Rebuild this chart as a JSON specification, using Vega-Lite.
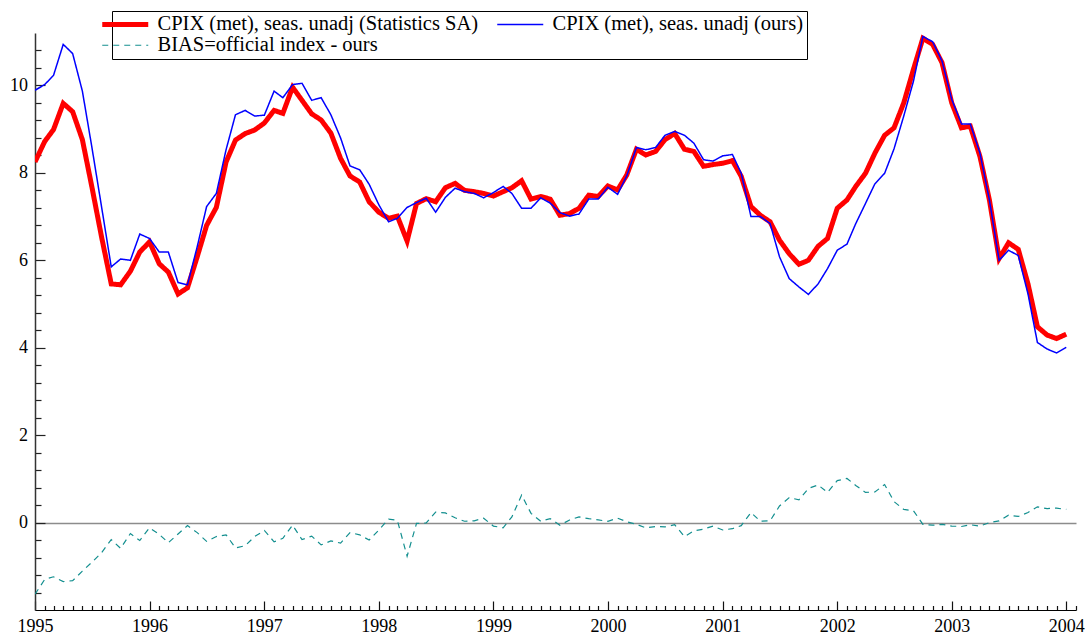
{
  "$schema": "https://vega.github.io/schema/vega-lite/v6.json",
  "width": 1041,
  "height": 577,
  "autosize": {"type": "none"},
  "padding": {"left": 35, "top": 33, "right": 14, "bottom": 27},
  "background": "white",
  "config": {"view": {"stroke": null}, "font": "Liberation Serif"},
  "data": {"values": [
    {"d": "1995-01-01", "official": 8.25, "ours": 9.89, "bias": -1.64},
    {"d": "1995-02-01", "official": 8.72, "ours": 10.02, "bias": -1.30},
    {"d": "1995-03-01", "official": 8.99, "ours": 10.23, "bias": -1.24},
    {"d": "1995-04-01", "official": 9.59, "ours": 10.94, "bias": -1.35},
    {"d": "1995-05-01", "official": 9.40, "ours": 10.73, "bias": -1.33},
    {"d": "1995-06-01", "official": 8.76, "ours": 9.87, "bias": -1.11},
    {"d": "1995-07-01", "official": 7.69, "ours": 8.60, "bias": -0.91},
    {"d": "1995-08-01", "official": 6.54, "ours": 7.23, "bias": -0.69},
    {"d": "1995-09-01", "official": 5.46, "ours": 5.85, "bias": -0.39},
    {"d": "1995-10-01", "official": 5.44, "ours": 6.03, "bias": -0.59},
    {"d": "1995-11-01", "official": 5.75, "ours": 6.00, "bias": -0.25},
    {"d": "1995-12-01", "official": 6.19, "ours": 6.60, "bias": -0.41},
    {"d": "1996-01-01", "official": 6.42, "ours": 6.50, "bias": -0.12},
    {"d": "1996-02-01", "official": 5.92, "ours": 6.19, "bias": -0.27},
    {"d": "1996-03-01", "official": 5.73, "ours": 6.19, "bias": -0.46},
    {"d": "1996-04-01", "official": 5.23, "ours": 5.49, "bias": -0.26},
    {"d": "1996-05-01", "official": 5.37, "ours": 5.44, "bias": -0.07},
    {"d": "1996-06-01", "official": 6.08, "ours": 6.31, "bias": -0.23},
    {"d": "1996-07-01", "official": 6.80, "ours": 7.23, "bias": -0.43},
    {"d": "1996-08-01", "official": 7.21, "ours": 7.53, "bias": -0.32},
    {"d": "1996-09-01", "official": 8.25, "ours": 8.53, "bias": -0.28},
    {"d": "1996-10-01", "official": 8.75, "ours": 9.33, "bias": -0.58},
    {"d": "1996-11-01", "official": 8.90, "ours": 9.43, "bias": -0.53},
    {"d": "1996-12-01", "official": 8.98, "ours": 9.30, "bias": -0.32},
    {"d": "1997-01-01", "official": 9.14, "ours": 9.32, "bias": -0.18},
    {"d": "1997-02-01", "official": 9.43, "ours": 9.87, "bias": -0.44},
    {"d": "1997-03-01", "official": 9.36, "ours": 9.72, "bias": -0.36},
    {"d": "1997-04-01", "official": 9.96, "ours": 10.02, "bias": -0.06},
    {"d": "1997-05-01", "official": 9.66, "ours": 10.05, "bias": -0.39},
    {"d": "1997-06-01", "official": 9.35, "ours": 9.66, "bias": -0.31},
    {"d": "1997-07-01", "official": 9.21, "ours": 9.72, "bias": -0.51},
    {"d": "1997-08-01", "official": 8.91, "ours": 9.33, "bias": -0.42},
    {"d": "1997-09-01", "official": 8.33, "ours": 8.80, "bias": -0.47},
    {"d": "1997-10-01", "official": 7.93, "ours": 8.16, "bias": -0.23},
    {"d": "1997-11-01", "official": 7.79, "ours": 8.07, "bias": -0.28},
    {"d": "1997-12-01", "official": 7.34, "ours": 7.74, "bias": -0.40},
    {"d": "1998-01-01", "official": 7.10, "ours": 7.27, "bias": -0.17},
    {"d": "1998-02-01", "official": 6.96, "ours": 6.88, "bias": 0.08},
    {"d": "1998-03-01", "official": 7.01, "ours": 6.96, "bias": 0.05},
    {"d": "1998-04-01", "official": 6.44, "ours": 7.21, "bias": -0.77},
    {"d": "1998-05-01", "official": 7.30, "ours": 7.32, "bias": -0.02},
    {"d": "1998-06-01", "official": 7.41, "ours": 7.42, "bias": -0.01},
    {"d": "1998-07-01", "official": 7.34, "ours": 7.10, "bias": 0.24},
    {"d": "1998-08-01", "official": 7.66, "ours": 7.44, "bias": 0.22},
    {"d": "1998-09-01", "official": 7.76, "ours": 7.65, "bias": 0.11},
    {"d": "1998-10-01", "official": 7.60, "ours": 7.57, "bias": 0.03},
    {"d": "1998-11-01", "official": 7.57, "ours": 7.53, "bias": 0.04},
    {"d": "1998-12-01", "official": 7.53, "ours": 7.43, "bias": 0.10},
    {"d": "1999-01-01", "official": 7.47, "ours": 7.55, "bias": -0.08},
    {"d": "1999-02-01", "official": 7.57, "ours": 7.69, "bias": -0.12},
    {"d": "1999-03-01", "official": 7.66, "ours": 7.53, "bias": 0.13},
    {"d": "1999-04-01", "official": 7.82, "ours": 7.19, "bias": 0.63},
    {"d": "1999-05-01", "official": 7.40, "ours": 7.19, "bias": 0.21},
    {"d": "1999-06-01", "official": 7.46, "ours": 7.43, "bias": 0.03},
    {"d": "1999-07-01", "official": 7.40, "ours": 7.31, "bias": 0.09},
    {"d": "1999-08-01", "official": 7.03, "ours": 7.09, "bias": -0.06},
    {"d": "1999-09-01", "official": 7.07, "ours": 7.01, "bias": 0.06},
    {"d": "1999-10-01", "official": 7.19, "ours": 7.06, "bias": 0.13},
    {"d": "1999-11-01", "official": 7.49, "ours": 7.40, "bias": 0.09},
    {"d": "1999-12-01", "official": 7.46, "ours": 7.40, "bias": 0.06},
    {"d": "2000-01-01", "official": 7.70, "ours": 7.67, "bias": 0.03},
    {"d": "2000-02-01", "official": 7.61, "ours": 7.51, "bias": 0.10},
    {"d": "2000-03-01", "official": 7.95, "ours": 7.93, "bias": 0.02},
    {"d": "2000-04-01", "official": 8.54, "ours": 8.58, "bias": -0.04},
    {"d": "2000-05-01", "official": 8.41, "ours": 8.53, "bias": -0.12},
    {"d": "2000-06-01", "official": 8.49, "ours": 8.58, "bias": -0.09},
    {"d": "2000-07-01", "official": 8.76, "ours": 8.86, "bias": -0.10},
    {"d": "2000-08-01", "official": 8.90, "ours": 8.95, "bias": -0.05},
    {"d": "2000-09-01", "official": 8.54, "ours": 8.86, "bias": -0.32},
    {"d": "2000-10-01", "official": 8.49, "ours": 8.68, "bias": -0.19},
    {"d": "2000-11-01", "official": 8.15, "ours": 8.30, "bias": -0.15},
    {"d": "2000-12-01", "official": 8.19, "ours": 8.27, "bias": -0.08},
    {"d": "2001-01-01", "official": 8.22, "ours": 8.39, "bias": -0.17},
    {"d": "2001-02-01", "official": 8.28, "ours": 8.42, "bias": -0.14},
    {"d": "2001-03-01", "official": 7.92, "ours": 7.99, "bias": -0.07},
    {"d": "2001-04-01", "official": 7.23, "ours": 7.00, "bias": 0.23},
    {"d": "2001-05-01", "official": 7.03, "ours": 7.00, "bias": 0.03},
    {"d": "2001-06-01", "official": 6.88, "ours": 6.84, "bias": 0.04},
    {"d": "2001-07-01", "official": 6.46, "ours": 6.08, "bias": 0.38},
    {"d": "2001-08-01", "official": 6.15, "ours": 5.58, "bias": 0.57},
    {"d": "2001-09-01", "official": 5.91, "ours": 5.39, "bias": 0.52},
    {"d": "2001-10-01", "official": 6.00, "ours": 5.22, "bias": 0.78},
    {"d": "2001-11-01", "official": 6.32, "ours": 5.46, "bias": 0.86},
    {"d": "2001-12-01", "official": 6.50, "ours": 5.81, "bias": 0.69},
    {"d": "2002-01-01", "official": 7.19, "ours": 6.23, "bias": 0.96},
    {"d": "2002-02-01", "official": 7.38, "ours": 6.37, "bias": 1.01},
    {"d": "2002-03-01", "official": 7.69, "ours": 6.84, "bias": 0.85},
    {"d": "2002-04-01", "official": 7.99, "ours": 7.30, "bias": 0.69},
    {"d": "2002-05-01", "official": 8.45, "ours": 7.75, "bias": 0.70},
    {"d": "2002-06-01", "official": 8.86, "ours": 7.99, "bias": 0.87},
    {"d": "2002-07-01", "official": 9.03, "ours": 8.55, "bias": 0.48},
    {"d": "2002-08-01", "official": 9.60, "ours": 9.30, "bias": 0.30},
    {"d": "2002-09-01", "official": 10.37, "ours": 10.10, "bias": 0.27},
    {"d": "2002-10-01", "official": 11.08, "ours": 11.12, "bias": -0.04},
    {"d": "2002-11-01", "official": 10.94, "ours": 11.00, "bias": -0.06},
    {"d": "2002-12-01", "official": 10.52, "ours": 10.56, "bias": -0.04},
    {"d": "2003-01-01", "official": 9.60, "ours": 9.68, "bias": -0.08},
    {"d": "2003-02-01", "official": 9.03, "ours": 9.12, "bias": -0.09},
    {"d": "2003-03-01", "official": 9.07, "ours": 9.12, "bias": -0.05},
    {"d": "2003-04-01", "official": 8.37, "ours": 8.45, "bias": -0.08},
    {"d": "2003-05-01", "official": 7.38, "ours": 7.38, "bias": 0.00},
    {"d": "2003-06-01", "official": 6.04, "ours": 6.00, "bias": 0.04},
    {"d": "2003-07-01", "official": 6.40, "ours": 6.23, "bias": 0.17},
    {"d": "2003-08-01", "official": 6.25, "ours": 6.11, "bias": 0.14},
    {"d": "2003-09-01", "official": 5.46, "ours": 5.23, "bias": 0.23},
    {"d": "2003-10-01", "official": 4.48, "ours": 4.12, "bias": 0.36},
    {"d": "2003-11-01", "official": 4.29, "ours": 3.97, "bias": 0.32},
    {"d": "2003-12-01", "official": 4.21, "ours": 3.88, "bias": 0.33},
    {"d": "2004-01-01", "official": 4.31, "ours": 4.01, "bias": 0.30}
  ]},
  "transform": [{"fold": ["official", "ours", "bias"], "as": ["series", "value"]}],
  "mark": {"type": "line", "clip": true},
  "encoding": {
    "x": {
      "field": "d", "type": "temporal",
      "scale": {"type": "utc", "domain": [{"year": 1995, "month": 1, "date": 1, "utc": true}, {"year": 2004, "month": 2, "date": 1, "utc": true}]},
      "axis": {
        "title": null, "grid": false, "ticks": true,
        "tickCount": {"interval": "month", "step": 1},
        "labelExpr": "utcmonth(datum.value) === 0 ? utcFormat(datum.value, '%Y') : ''",
        "tickSize": {"condition": {"test": "utcmonth(datum.value) === 0", "value": -9}, "value": -4.5},
        "domainColor": "#000", "tickColor": "#111", "domainWidth": 1.2, "tickWidth": 1.2,
        "labelFont": "Liberation Serif", "labelFontSize": 18, "labelColor": "#000",
        "labelPadding": 16, "labelOverlap": false, "labelFlush": false, "labelBound": false
      }
    },
    "y": {
      "field": "value", "type": "quantitative",
      "scale": {"domain": [-2, 11.2], "nice": false, "zero": false},
      "axis": {
        "title": null, "ticks": true,
        "grid": true,
        "gridColor": {"condition": {"test": "datum.value === 0", "value": "#8c8c8c"}, "value": "transparent"},
        "gridWidth": 1.3,
        "values": [-1.6, -1.2, -0.8, -0.4, 0, 0.4, 0.8, 1.2, 1.6, 2, 2.4, 2.8, 3.2, 3.6, 4, 4.4, 4.8, 5.2, 5.6, 6, 6.4, 6.8, 7.2, 7.6, 8, 8.4, 8.8, 9.2, 9.6, 10, 10.4, 10.8],
        "tickSize": {"condition": {"test": "abs(datum.value/2 - round(datum.value/2)) < 0.01", "value": -10}, "value": -6},
        "labelExpr": "abs(datum.value/2 - round(datum.value/2)) < 0.01 && datum.value >= 0 ? format(datum.value, 'd') : ''",
        "domainColor": "#333", "tickColor": "#222", "domainWidth": 1.5, "tickWidth": 1.2,
        "labelFont": "Liberation Serif", "labelFontSize": 18, "labelColor": "#000",
        "labelPadding": 17.5, "labelOverlap": false, "labelFlush": false, "labelBound": false
      }
    },
    "color": {
      "field": "series", "type": "nominal",
      "scale": {"domain": ["official", "ours", "bias"], "range": ["#ff0000", "#0000ff", "#138f8f"]},
      "legend": {
        "title": null, "orient": "none", "legendX": 77, "legendY": -22,
        "direction": "horizontal", "columns": 2,
        "symbolType": "M-4.6,0H4.6", "symbolSize": 100,
        "labelExpr": "datum.value === 'official' ? 'CPIX (met), seas. unadj (Statistics SA)' : datum.value === 'ours' ? 'CPIX (met), seas. unadj (ours)' : 'BIAS=official index - ours'",
        "labelFont": "Liberation Serif", "labelFontSize": 20.5, "labelColor": "#000", "labelLimit": 0,
        "labelOffset": 22, "columnPadding": 15, "rowPadding": -3, "padding": 3,
        "strokeColor": "#000", "fillColor": "#fff", "cornerRadius": 0
      }
    },
    "strokeWidth": {
      "field": "series", "type": "ordinal",
      "scale": {"type": "ordinal", "domain": ["official", "ours", "bias"], "range": [5, 1.5, 1.2]},
      "legend": {"title": null}
    },
    "strokeDash": {
      "field": "series", "type": "nominal",
      "scale": {"domain": ["official", "ours", "bias"], "range": [[1, 0], [1, 0], [6, 5]]},
      "legend": {"title": null}
    }
  }
}
